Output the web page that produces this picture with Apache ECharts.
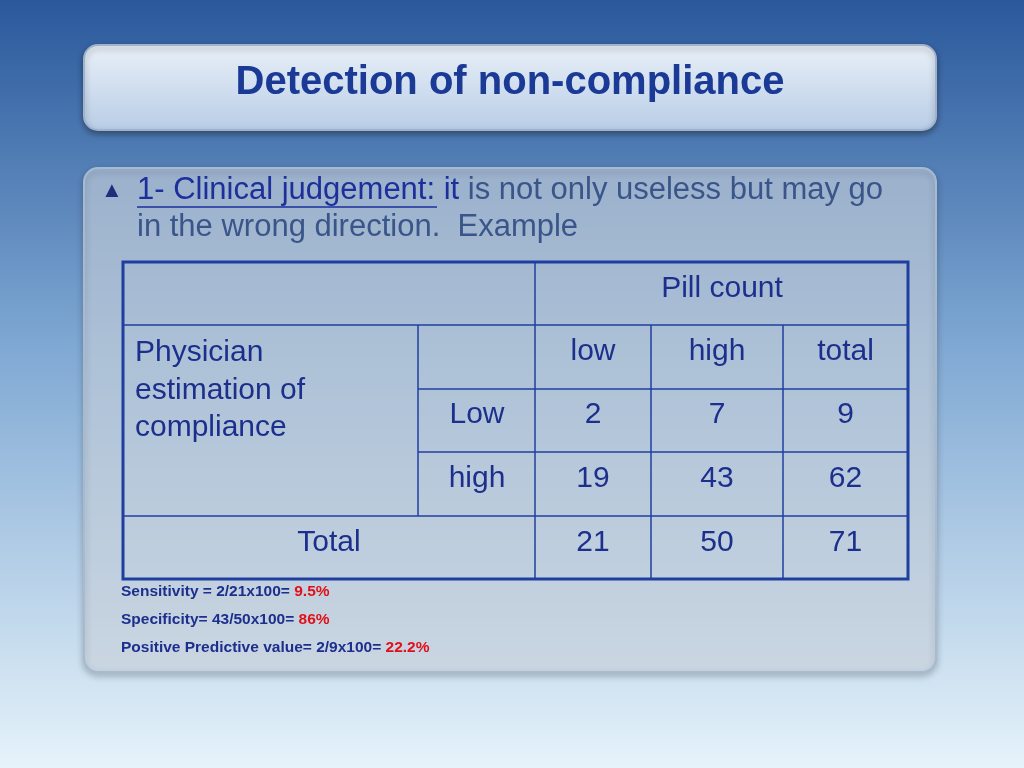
<!DOCTYPE html>
<html><head><meta charset="utf-8">
<script src="https://cdn.jsdelivr.net/npm/echarts@6/dist/echarts.min.js"></script>
<style>html,body{margin:0;padding:0}#main{width:1024px;height:768px}</style>
</head><body><div id="main"></div>
<script>
var title = 'Detection of non-compliance';
var colHeads = ['low', 'high', 'total'];
var rowHeads = ['Low', 'high'];
var rowValues = [[2, 7, 9], [19, 43, 62]];
var totals = [21, 50, 71];
var notes = [
  ['Sensitivity = 2/21x100= ', '9.5%'],
  ['Specificity= 43/50x100= ', '86%'],
  ['Positive Predictive value= 2/9x100= ', '22.2%']
];

var chart = echarts.init(document.getElementById('main'));
var xs = [123, 418, 535, 651, 783, 908];
var ys = [262, 325, 389, 452, 516, 579];
var ink = '#1c2f8c';
var font = 'Arial, "Liberation Sans", sans-serif';
var g = [];

g.push({type:'rect', shape:{x:0,y:0,width:1024,height:768}, style:{fill:new echarts.graphic.LinearGradient(0,0,0,1,[{offset:0,color:'#2a589b'},{offset:0.45,color:'#7fa8d3'},{offset:1,color:'#e6f3fa'}])}});
// title box
g.push({type:'rect', shape:{x:84,y:45,width:852,height:85,r:14}, style:{fill:new echarts.graphic.LinearGradient(0,0,0,1,[{offset:0,color:'#e9f0f8'},{offset:1,color:'#b8cde6'}]), stroke:'#9fb3cc', lineWidth:2, shadowBlur:6, shadowColor:'rgba(0,0,0,0.35)', shadowOffsetY:3}});
g.push({type:'text', style:{x:510,y:83,text:title,fill:'#1b3a96',font:'bold 40px '+font,align:'center',verticalAlign:'middle'}});
// content box
g.push({type:'rect', shape:{x:84,y:168,width:852,height:504,r:14}, style:{fill:'rgba(225,235,246,0.55)', stroke:'#a8bad0', lineWidth:2, shadowBlur:6, shadowColor:'rgba(0,0,0,0.3)', shadowOffsetY:3}});
g.push({type:'text', style:{x:101,y:191,text:'▲',fill:'#1b2f7a',font:'22px '+font,verticalAlign:'middle'}});
g.push({type:'text', style:{x:137,y:190,text:'{d|1- Clinical judgement: it} is not only useless but may go',fill:'#3a5589',font:'31px '+font,verticalAlign:'middle',rich:{d:{fill:'#1c2f9a',font:'31px '+font}}}});
g.push({type:'line', shape:{x1:137,y1:207,x2:437,y2:207}, style:{stroke:'#1c2f9a',lineWidth:1.5}});
g.push({type:'text', style:{x:137,y:227,text:'in the wrong direction.  Example',fill:'#3a5589',font:'31px '+font,verticalAlign:'middle'}});

// table lines
function hl(y,x1,x2,w){g.push({type:'line',shape:{x1:x1,y1:y,x2:x2,y2:y},style:{stroke:'#1f3fa0',lineWidth:w}});}
function vl(x,y1,y2,w){g.push({type:'line',shape:{x1:x,y1:y1,x2:x,y2:y2},style:{stroke:'#1f3fa0',lineWidth:w}});}
hl(ys[1],xs[0],xs[5],1.5); hl(ys[2],xs[1],xs[5],1.5); hl(ys[3],xs[1],xs[5],1.5); hl(ys[4],xs[0],xs[5],1.5);
vl(xs[1],ys[1],ys[4],1.5); vl(xs[2],ys[0],ys[5],1.5); vl(xs[3],ys[1],ys[5],1.5); vl(xs[4],ys[1],ys[5],1.5);
g.push({type:'rect',shape:{x:xs[0],y:ys[0],width:xs[5]-xs[0],height:ys[5]-ys[0]},style:{fill:'none',stroke:'#1f3fa0',lineWidth:3}});

function cell(t,x,y,al){g.push({type:'text',style:{x:x,y:y,text:String(t),fill:ink,font:'30px '+font,align:al||'center',verticalAlign:'middle'}});}
cell('Pill count',722,289);
colHeads.forEach(function(c,i){cell(c,(xs[i+2]+xs[i+3])/2,352);});
rowHeads.forEach(function(r,j){
  cell(r,477,415+j*63.5);
  rowValues[j].forEach(function(v,i){cell(v,(xs[i+2]+xs[i+3])/2,415+j*63.5);});
});
g.push({type:'text',style:{x:135,y:334,text:'Physician\nestimation of\ncompliance',fill:ink,font:'30px '+font,lineHeight:37.5}});
cell('Total',329,543);
totals.forEach(function(v,i){cell(v,(xs[i+2]+xs[i+3])/2,543);});

notes.forEach(function(n,i){
  g.push({type:'text',style:{x:121,y:592+i*28,text:n[0]+'{r|'+n[1]+'}',fill:'#1c2f8c',font:'bold 15.5px '+font,verticalAlign:'middle',rich:{r:{fill:'#e0101a',font:'bold 15.5px '+font}}}});
});

chart.setOption({graphic:g});
</script></body></html>
